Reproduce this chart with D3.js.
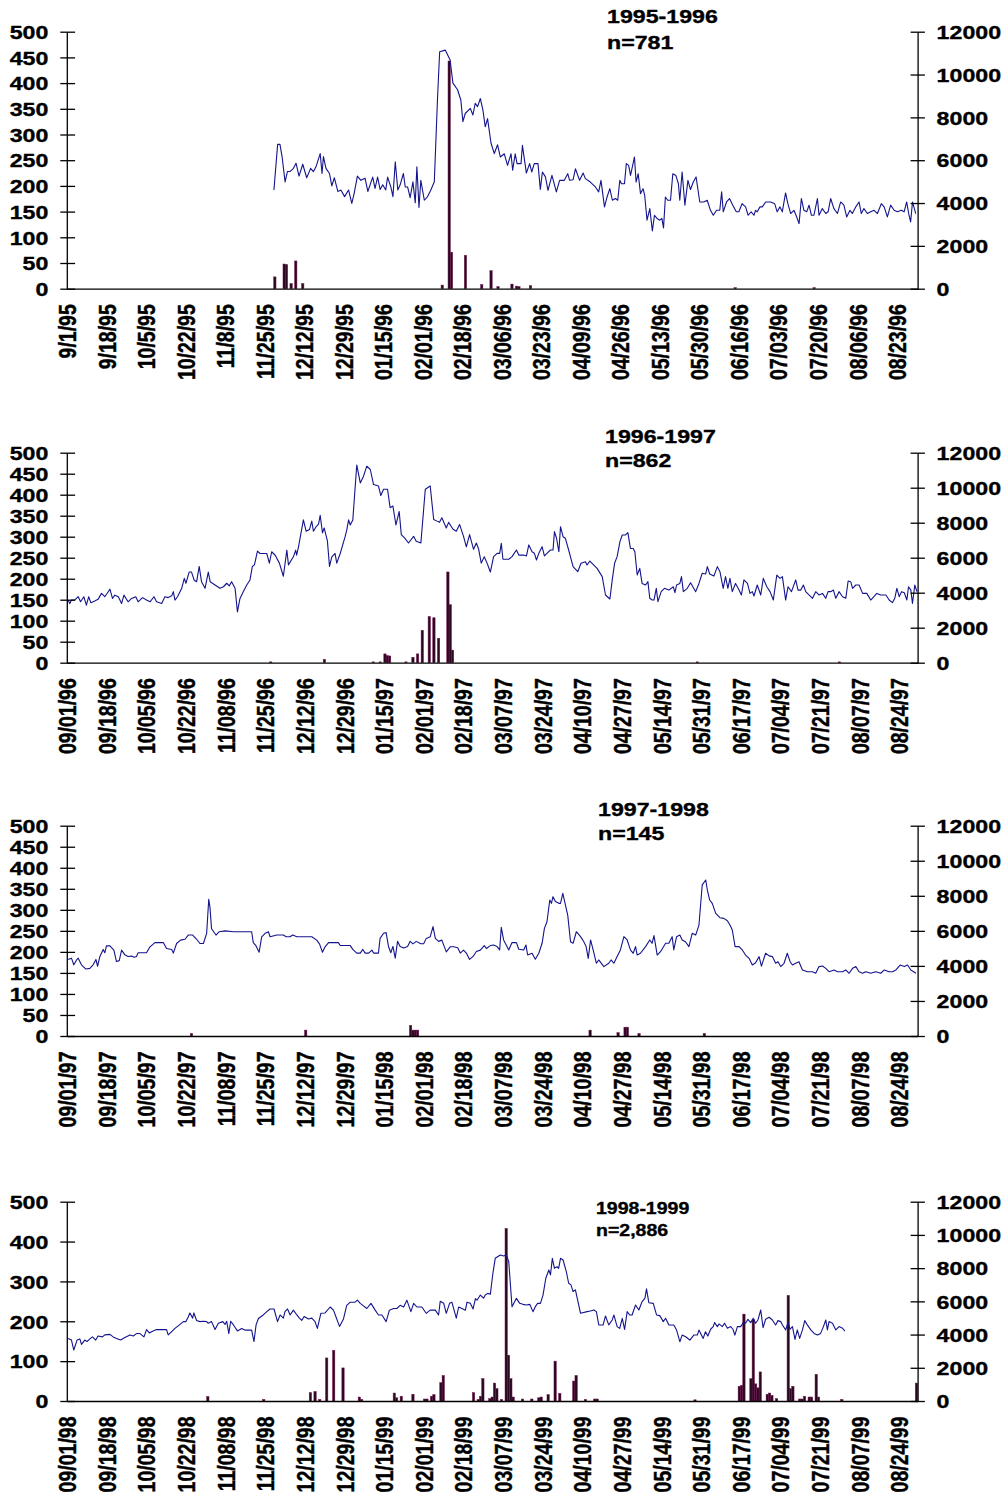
<!DOCTYPE html>
<html>
<head>
<meta charset="utf-8">
<script src="https://cdn.jsdelivr.net/npm/d3@7"></script>
<style>
  body { margin: 0; background: #fff; }
  svg { display: block; }
</style>
</head>
<body>
<svg id="chart" width="1006" height="1496"></svg>
<script>
// ---- Season 1995-1996 (366 days from Sep 1) ----
const s1Title = "1995-1996";
const s1N = "n=781";
const s1Days = 366;
const s1Ticks = ["9/1/95","9/18/95","10/5/95","10/22/95","11/8/95","11/25/95","12/12/95","12/29/95","01/15/96","02/01/96","02/18/96","03/06/96","03/23/96","04/09/96","04/26/96","05/13/96","05/30/96","06/16/96","07/03/96","07/20/96","08/06/96","08/23/96"];
// [day since Sep 1, value on right axis]
const s1Line = [[88.6,4610],[90.2,6740],[91.2,6740],[92.1,6170],[93.4,4990],[94.4,5470],[95.5,5470],[97.0,5620],[98.1,5860],[99.4,5260],[101.0,5810],[102.7,5180],[104.4,5620],[105.6,5470],[106.7,5690],[108.5,6310],[109.3,5380],[109.9,6170],[111.0,5620],[112.5,5380],[113.5,4800],[114.6,5180],[116.1,4540],[117.4,4610],[119.0,4300],[120.7,4610],[122.1,3980],[123.1,4440],[124.5,5260],[126.0,5060],[127.8,5160],[129.0,4540],[131.1,5210],[132.1,4680],[133.2,5210],[134.3,4630],[135.4,4850],[136.7,4610],[137.5,5210],[138.9,4750],[139.8,4300],[140.8,5930],[141.9,4610],[142.9,4850],[144.3,5380],[145.1,4750],[146.1,4750],[147.2,4250],[148.4,4990],[149.4,4010],[150.1,5690],[151.0,3790],[151.8,5060],[153.3,4130],[154.7,4300],[156.1,4610],[157.6,4990],[159.0,8950],[159.9,11060],[162.3,11140],[164.4,10680],[165.6,9600],[167.6,9290],[169.0,8810],[169.9,7800],[170.9,8180],[173.1,8420],[174.2,8110],[175.2,8660],[176.2,8500],[177.4,8880],[178.5,8350],[179.5,7560],[180.5,7940],[182.0,6790],[183.4,6310],[184.8,6720],[186.0,6150],[187.7,6300],[189.1,5760],[190.6,6300],[191.3,5530],[192.4,6300],[193.2,5840],[194.9,5840],[195.5,6690],[197.2,5400],[198.6,5840],[199.5,5450],[200.6,5840],[202.2,5840],[203.2,4640],[204.1,5450],[205.4,5220],[206.5,4590],[208.2,5290],[210.1,4520],[211.5,5060],[213.5,5060],[215.0,5370],[215.8,5060],[217.3,5090],[218.3,5600],[220.1,5060],[221.6,5400],[222.6,5140],[224.7,4980],[226.9,4750],[228.3,4520],[229.3,5060],[230.8,3820],[231.9,4280],[233.1,4670],[234.2,4130],[235.5,4210],[236.5,4130],[237.4,5060],[238.1,4900],[239.4,4900],[240.2,5840],[241.2,5760],[242.0,5290],[243.1,5840],[243.7,6150],[244.4,4980],[245.3,5370],[246.3,4440],[247.4,4670],[248.1,4360],[249.1,3200],[250.3,3740],[251.4,2700],[252.3,3430],[253.4,3280],[254.6,3200],[255.5,3280],[256.2,2840],[257.0,4280],[258.0,4130],[259.2,4130],[260.2,5370],[261.5,5290],[262.6,4900],[263.2,4130],[264.2,5450],[265.4,3900],[266.7,5060],[267.8,4630],[269.0,4980],[270.2,5220],[271.8,4050],[273.5,4050],[275.0,4130],[276.4,3660],[277.6,3430],[279.0,3660],[280.4,3660],[281.2,4520],[281.9,3590],[283.3,4050],[284.6,4210],[286.0,3900],[287.5,3590],[288.6,3590],[290.0,3970],[291.5,3820],[292.6,3430],[293.9,3590],[295.1,3430],[295.8,3660],[296.5,3590],[297.7,3820],[298.7,3820],[300.1,4050],[302.3,4050],[304.0,3970],[305.1,3590],[306.3,3820],[307.3,3590],[308.7,4470],[309.7,3970],[310.9,3510],[312.3,3660],[313.5,3350],[314.5,3040],[315.5,4210],[316.6,3660],[317.8,3590],[318.8,3900],[319.8,3430],[320.9,3430],[322.4,4210],[323.1,3430],[324.5,3740],[326.0,3510],[327.0,3590],[328.1,4210],[329.5,3740],[331.0,3510],[332.4,4050],[333.8,3900],[335.0,3350],[336.4,3660],[337.4,3510],[338.9,3820],[340.3,4050],[341.3,3510],[342.4,3740],[343.9,3510],[345.3,3590],[346.8,3660],[348.2,3510],[349.9,3970],[351.1,3820],[352.5,3350],[353.9,3900],[355.4,3660],[356.8,3590],[358.5,3660],[359.7,3590],[360.8,4050],[361.8,3430],[362.5,3120],[363.3,4050],[364.7,3510]];
// [day since Sep 1, count on left axis]
const s1Bars = [[89,23],[93,48],[94,47],[96,10],[98,54],[101,10],[161,7],[164,443],[165,71],[171,65],[178,8],[182,35],[185,4],[191,9],[193,5],[194,4],[199,6],[287,2],[321,2]];

// ---- Season 1996-1997 ----
const s2Title = "1996-1997";
const s2N = "n=862";
const s2Days = 365;
const s2Ticks = ["09/01/96","09/18/96","10/05/96","10/22/96","11/08/96","11/25/96","12/12/96","12/29/96","01/15/97","02/01/97","02/18/97","03/07/97","03/24/97","04/10/97","04/27/97","05/14/97","05/31/97","06/17/97","07/04/97","07/21/97","08/07/97","08/24/97"];
const s2Line = [[0.0,3580],[0.8,3380],[1.5,3580],[2.9,3580],[4.4,3770],[5.4,3480],[6.8,3770],[7.9,3290],[8.9,3770],[9.8,3430],[11.5,3530],[12.9,3620],[14.4,3960],[15.8,3770],[18.0,4200],[19.1,3670],[20.1,3860],[21.6,3770],[23.0,3380],[24.0,3860],[25.8,3480],[27.3,3670],[29.1,3770],[30.1,3480],[32.0,3720],[33.7,3580],[35.2,3480],[36.9,3770],[38.0,3480],[40.2,3380],[41.6,3770],[43.0,3720],[44.5,3820],[45.2,4060],[45.9,3580],[47.0,3770],[48.8,4250],[49.9,4820],[50.6,4540],[52.0,5180],[53.0,5180],[54.1,4730],[55.2,4630],[56.3,5500],[57.3,4630],[58.8,4250],[60.2,5180],[61.0,4630],[63.1,4440],[65.2,4250],[66.7,4340],[68.1,4540],[69.2,4390],[70.2,4630],[71.7,4250],[72.7,2900],[73.8,3670],[75.2,4060],[76.7,4440],[78.1,4730],[79.1,5500],[80.0,5590],[81.3,6380],[82.4,6240],[85.3,6240],[86.4,5690],[87.4,6340],[88.9,6140],[90.7,5690],[92.4,4940],[93.9,6430],[94.6,5590],[96.7,6050],[97.7,6430],[98.1,6140],[98.9,6620],[101.0,8160],[102.2,7510],[103.6,7610],[104.6,8090],[105.3,7510],[106.5,7780],[107.5,7920],[108.2,8420],[109.2,7420],[109.9,7700],[111.3,6960],[112.2,5500],[113.2,6050],[114.6,6240],[115.3,5690],[116.8,6240],[118.9,7200],[119.6,7580],[120.4,8160],[121.1,7870],[122.2,8160],[123.9,11300],[125.4,10270],[126.8,10660],[128.2,11230],[129.7,11040],[131.1,10180],[133.2,10100],[134.2,9550],[135.4,9910],[137.1,9910],[138.2,8860],[139.4,8950],[140.7,7870],[142.1,8640],[143.0,7320],[144.4,7130],[146.1,6840],[148.3,7220],[149.4,6940],[151.4,6840],[153.3,9910],[155.4,10100],[156.9,8180],[158.3,8090],[159.4,8020],[160.4,8280],[162.3,7700],[163.3,8020],[165.2,7630],[166.6,7510],[168.0,7900],[169.7,7220],[170.9,6620],[172.3,7320],[174.0,6480],[175.2,6840],[176.2,6480],[177.3,5690],[178.6,6050],[179.8,5690],[181.2,5180],[182.6,6060],[184.1,6250],[185.2,6250],[185.9,6820],[186.6,5910],[189.1,5910],[190.5,6060],[192.4,6440],[193.4,6150],[195.5,6150],[196.7,6100],[197.7,6730],[199.1,6340],[200.1,6250],[201.0,5870],[202.0,6250],[203.4,6630],[204.4,6100],[205.8,6290],[207.0,6440],[208.1,6440],[208.7,7490],[209.6,7110],[210.6,6340],[211.3,7770],[212.4,7200],[213.4,7110],[214.8,6440],[216.7,5490],[218.7,5200],[220.1,5680],[222.0,5770],[222.7,5580],[223.9,5810],[225.6,5580],[227.0,5390],[229.2,4920],[230.6,3870],[232.5,3640],[233.5,4730],[234.5,5680],[235.6,6060],[236.8,6920],[237.8,7300],[239.2,7300],[240.2,7430],[241.3,6530],[242.5,6530],[243.2,6340],[244.2,5010],[245.3,5390],[246.3,4530],[247.8,4440],[248.8,4630],[249.6,3680],[250.6,3580],[251.4,3580],[252.4,4250],[253.1,3490],[254.5,4060],[255.9,4250],[257.8,4150],[259.7,4340],[260.4,4000],[261.1,4440],[262.5,4530],[263.2,4920],[264.0,4060],[265.7,4250],[267.1,4570],[269.3,4060],[270.7,4530],[272.1,5110],[273.6,5070],[274.3,5490],[275.3,5070],[277.1,4950],[278.6,5490],[279.7,5200],[281.1,4250],[282.1,4920],[283.1,4250],[284.0,4820],[285.0,4060],[286.4,4530],[287.9,4150],[288.9,3870],[290.0,4730],[291.5,4530],[292.6,3960],[293.6,4060],[294.3,3810],[295.7,4440],[297.2,3870],[298.3,4820],[299.8,4340],[301.2,4060],[302.6,3580],[304.1,5010],[305.5,4820],[306.5,4920],[307.9,3580],[308.9,4340],[310.4,4060],[312.2,4730],[313.2,4150],[314.4,4150],[315.5,4440],[316.5,4060],[317.9,3870],[319.4,3680],[320.8,4060],[322.2,3870],[323.7,3960],[325.1,3680],[326.1,4060],[327.2,4060],[328.4,4150],[329.4,3680],[330.8,4060],[332.3,3770],[333.7,3680],[334.7,4670],[335.8,4630],[336.6,4250],[338.0,4440],[339.4,4440],[340.9,3960],[342.7,3960],[344.4,3580],[347.0,3960],[348.7,3870],[350.9,3870],[352.3,3580],[353.7,3430],[354.7,3680],[355.6,4250],[356.6,3770],[357.6,4060],[358.8,4000],[359.9,3580],[360.6,4340],[361.6,4150],[362.3,3390],[363.3,4440],[364.2,4060]];
const s2Bars = [[87,2],[110,8],[131,2],[134,2],[136,21],[137,17],[138,16],[145,2],[148,13],[150,21],[152,77],[155,110],[157,107],[159,58],[163,216],[164,138],[165,30],[270,2],[331,2]];

// ---- Season 1997-1998 ----
const s3Title = "1997-1998";
const s3N = "n=145";
const s3Days = 365;
const s3Ticks = ["09/01/97","09/18/97","10/05/97","10/22/97","11/08/97","11/25/97","12/12/97","12/29/97","01/15/98","02/01/98","02/18/98","03/07/98","03/24/98","04/10/98","04/27/98","05/14/98","05/31/98","06/17/98","07/04/98","07/21/98","08/07/98","08/24/98"];
const s3Line = [[0.1,4370],[1.5,4440],[2.5,4060],[3.7,4340],[4.4,4440],[5.8,4060],[7.7,3820],[9.4,3860],[10.8,4060],[12.0,4370],[12.7,3980],[13.7,4540],[15.1,4940],[15.8,4750],[16.5,5140],[18.0,5140],[19.7,4900],[20.8,4250],[22.0,4300],[23.0,4900],[24.4,4630],[25.8,4540],[27.3,4560],[28.4,4490],[29.4,4540],[30.1,4750],[33.7,4750],[35.2,5090],[37.3,5330],[40.9,5330],[42.3,4990],[44.5,4940],[45.2,4730],[46.6,5280],[48.3,5470],[50.2,5520],[51.6,5760],[53.5,5760],[55.2,5520],[56.6,5280],[58.1,5280],[59.5,5860],[60.4,7800],[60.9,7370],[61.6,6120],[63.5,5760],[64.9,5950],[67.4,6000],[71.0,5950],[75.2,5950],[78.8,5950],[79.5,5330],[80.7,5140],[82.0,4780],[83.1,5660],[84.6,5860],[86.0,5950],[86.7,5660],[89.6,5760],[92.4,5760],[93.6,5660],[95.3,5660],[96.4,5760],[98.2,5660],[104.6,5660],[106.7,5470],[107.9,5260],[109.2,4780],[110.3,5090],[111.8,5330],[116.0,5330],[116.8,5160],[121.1,5160],[122.2,4940],[123.9,4730],[125.4,4730],[126.5,4940],[127.5,4730],[129.0,4730],[130.4,4900],[131.1,4730],[133.2,4730],[133.9,5570],[135.4,5860],[136.5,5900],[137.5,5110],[138.5,4750],[139.4,5110],[140.4,4440],[141.4,5400],[142.5,5110],[144.0,5020],[145.7,5110],[146.8,5400],[148.0,5260],[149.4,5400],[151.4,5260],[152.6,5260],[153.7,5570],[155.4,5660],[156.6,6240],[157.6,5570],[159.0,5400],[160.4,5470],[162.3,4800],[164.0,5090],[165.4,5090],[167.2,5040],[168.3,4730],[169.7,4900],[170.9,4730],[172.3,4370],[173.8,4540],[175.2,4820],[176.9,4900],[178.6,5160],[179.5,4990],[181.2,5160],[182.6,5190],[184.1,5100],[185.2,4910],[185.9,6200],[186.9,5480],[189.1,4910],[190.5,5330],[192.4,5330],[193.4,4950],[195.5,4910],[196.5,5190],[197.2,4620],[199.1,4720],[200.5,4380],[202.0,4720],[203.4,5290],[204.4,6140],[205.5,6520],[206.7,7760],[207.4,7570],[208.1,7950],[209.1,7670],[210.6,7570],[211.3,7570],[212.3,8140],[213.4,7480],[214.4,6900],[215.6,5380],[216.7,5290],[218.1,5950],[219.9,5670],[221.3,5380],[222.3,5100],[223.2,4430],[224.2,5480],[225.3,4910],[226.7,4150],[227.7,4340],[229.9,3960],[232.0,4150],[233.0,4340],[234.2,4150],[235.6,4530],[237.0,4910],[238.5,5670],[239.9,5480],[241.3,4910],[242.5,4720],[243.5,5100],[244.2,4620],[245.6,4720],[247.8,5100],[249.6,5480],[250.6,5290],[251.4,5730],[252.8,4620],[254.2,4810],[256.4,5290],[257.8,5290],[259.2,5670],[259.9,4910],[261.1,5670],[262.5,5760],[263.5,5480],[264.9,5380],[266.4,5100],[267.8,5860],[269.3,5760],[270.7,6330],[272.1,8620],[273.6,8900],[274.3,8330],[275.3,7760],[276.4,7570],[277.9,7000],[279.7,6750],[281.4,6710],[282.9,6580],[284.0,6330],[285.0,6050],[286.2,5100],[287.9,5100],[289.3,4910],[290.7,4620],[292.2,4430],[293.6,4050],[295.0,4180],[296.5,4530],[297.5,3990],[299.3,4720],[300.8,4570],[302.2,4530],[303.6,4150],[304.6,4240],[305.8,3960],[307.2,4150],[308.6,4720],[309.8,4240],[310.8,4050],[312.2,4150],[313.6,4240],[315.1,3770],[317.2,3670],[319.4,3670],[320.8,3580],[322.2,3960],[323.7,3990],[325.1,3860],[326.5,3670],[328.7,3770],[330.1,3670],[332.3,3670],[333.7,3770],[335.1,3580],[336.6,3860],[338.0,3960],[339.4,3670],[340.9,3580],[342.3,3670],[344.4,3580],[346.6,3670],[348.7,3580],[350.2,3770],[352.3,3670],[353.7,3670],[355.2,3770],[357.0,4050],[358.8,3960],[360.2,4050],[361.6,3770],[362.8,3670],[363.8,3580]];
const s3Bars = [[53,6],[102,14],[147,25],[148,14],[149,14],[150,14],[224,14],[236,8],[239,21],[240,21],[245,6],[273,6]];

// ---- Season 1998-1999 ----
const s4Title = "1998-1999";
const s4N = "n=2,886";
const s4Days = 365;
const s4Ticks = ["09/01/98","09/18/98","10/05/98","10/22/98","11/08/98","11/25/98","12/12/98","12/29/98","01/15/99","02/01/99","02/18/99","03/07/99","03/24/99","04/10/99","04/27/99","05/14/99","05/31/99","06/17/99","07/04/99","07/21/99","08/07/99","08/24/99"];
const s4Line = [[0.1,3770],[1.5,3670],[2.5,3070],[3.9,3670],[5.1,3740],[5.8,3410],[7.2,3670],[8.2,3580],[9.4,3740],[10.5,3860],[11.9,3670],[12.9,3910],[14.8,3860],[15.8,3980],[18.0,4010],[19.4,3860],[20.8,3770],[22.6,3670],[24.4,3820],[26.6,3980],[28.0,3910],[29.4,4060],[30.9,4060],[32.6,3860],[33.7,4300],[34.9,4100],[36.3,4200],[38.0,4300],[40.9,4300],[42.3,4300],[43.0,3980],[44.5,4180],[45.9,4370],[47.8,4580],[49.5,4780],[50.6,4780],[51.6,5060],[52.3,5300],[53.5,4990],[54.0,5300],[55.2,4850],[56.6,4780],[58.1,4800],[59.5,4780],[60.2,4680],[61.6,4780],[63.1,4300],[64.5,4680],[66.4,4780],[67.4,4610],[68.1,4800],[69.0,4060],[69.8,4800],[71.0,4580],[72.7,4220],[74.5,4370],[75.9,4270],[77.0,4270],[78.8,4270],[79.8,3580],[80.7,4580],[81.7,4970],[83.8,5180],[85.3,5380],[86.7,5540],[88.4,5540],[89.9,4780],[91.0,5180],[92.4,4990],[93.1,5380],[94.2,5540],[95.3,5180],[96.7,5470],[98.2,5180],[99.3,4990],[100.3,4850],[101.3,5090],[103.2,4940],[104.6,4990],[106.0,4780],[107.0,4370],[108.5,5280],[110.3,5300],[112.5,5660],[113.9,5470],[115.0,5060],[116.5,4490],[118.2,4940],[119.6,5760],[121.1,5950],[123.2,5950],[124.2,6070],[125.4,5880],[126.5,5760],[128.2,5570],[130.0,5880],[131.8,5470],[133.2,5180],[134.7,5180],[136.5,4780],[137.9,5470],[139.7,5570],[141.1,5570],[142.5,5760],[144.0,5660],[145.4,6070],[147.1,5380],[148.3,5880],[149.7,5660],[151.8,5660],[153.7,5280],[155.4,5470],[157.6,5470],[159.0,5180],[159.7,6000],[161.2,5880],[162.3,5280],[163.7,5880],[164.7,5950],[166.6,4990],[167.6,5660],[169.0,5570],[170.5,5470],[171.2,5950],[172.6,5880],[173.8,5540],[174.8,6170],[175.5,6070],[176.9,6380],[178.3,6190],[179.0,6380],[180.1,6480],[181.2,6430],[182.3,7690],[183.3,8590],[185.5,8790],[186.9,8730],[188.1,8790],[189.1,8390],[190.5,5680],[192.4,6180],[193.8,5880],[195.2,5820],[196.7,5780],[198.1,5820],[199.5,5380],[200.5,5680],[201.5,5880],[202.7,5880],[203.8,6380],[205.0,7390],[206.3,7890],[207.0,7590],[207.8,8590],[208.7,7990],[209.8,8090],[210.5,7990],[211.3,8590],[212.4,8490],[213.8,7790],[214.8,7090],[215.8,6990],[216.7,6590],[217.7,6690],[219.9,5280],[222.7,5380],[224.1,5420],[225.6,5480],[226.7,5380],[227.7,4580],[229.6,4580],[230.6,5120],[232.0,4580],[233.5,4880],[234.2,5180],[235.6,4480],[236.7,4370],[237.8,4980],[238.8,4310],[239.9,5380],[241.0,5180],[242.0,5180],[243.5,5780],[244.9,5480],[246.3,5980],[247.5,6180],[248.2,6750],[249.2,5920],[251.1,5880],[252.5,5180],[253.9,5140],[255.4,4780],[256.4,4980],[257.8,4580],[259.9,4580],[261.1,4270],[262.5,3570],[263.5,3970],[265.0,3870],[266.8,3670],[268.5,3970],[270.0,3970],[270.7,4270],[272.5,3770],[273.5,4170],[274.5,3910],[275.7,4320],[276.8,4480],[277.4,4720],[278.6,4480],[279.3,4640],[280.7,4480],[281.7,4680],[282.9,4380],[284.3,4480],[285.3,4320],[286.1,3970],[287.2,4480],[288.6,4480],[289.7,4720],[290.7,4680],[291.7,4920],[292.9,4720],[294.0,4980],[295.0,4680],[296.0,4880],[297.2,5480],[298.2,4420],[299.3,4920],[300.8,5040],[302.2,4880],[303.6,4580],[304.6,4840],[305.8,4780],[306.5,4580],[307.9,4280],[308.9,4720],[309.8,4320],[310.8,4480],[311.9,3710],[312.9,4280],[313.9,3770],[315.1,4280],[316.1,4840],[317.2,4580],[318.7,4280],[320.1,4070],[321.5,3970],[322.9,4070],[324.1,4480],[325.1,4880],[325.8,4280],[326.5,4780],[328.0,4680],[329.4,4280],[330.8,4480],[332.3,4380],[333.3,4210]];
const s4Bars = [[60,11],[84,4],[104,21],[106,24],[108,4],[111,108],[114,127],[118,83],[125,10],[126,4],[140,20],[141,8],[143,12],[148,17],[153,5],[154,5],[156,12],[157,16],[160,46],[161,64],[174,21],[176,4],[177,12],[178,56],[181,6],[182,10],[183,45],[184,31],[186,4],[188,433],[189,115],[190,56],[191,10],[195,5],[199,5],[202,8],[203,10],[206,16],[209,100],[211,19],[217,50],[218,64],[222,4],[226,5],[227,5],[269,3],[288,37],[289,39],[290,218],[293,56],[294,204],[295,43],[296,33],[297,73],[300,17],[301,20],[302,14],[304,6],[309,265],[310,31],[311,37],[314,5],[315,5],[316,12],[318,10],[319,10],[321,67],[322,10],[332,4],[364,45]];

// Axis tick values
const leftTicksFine = [0, 50, 100, 150, 200, 250, 300, 350, 400, 450, 500];
const leftTicksCoarse = [0, 100, 200, 300, 400, 500];
const rightTicks = [0, 2000, 4000, 6000, 8000, 10000, 12000];

const seasons = [
  { title: s1Title, n: s1N, days: s1Days, ticks: s1Ticks, line: s1Line, bars: s1Bars, left: leftTicksFine },
  { title: s2Title, n: s2N, days: s2Days, ticks: s2Ticks, line: s2Line, bars: s2Bars, left: leftTicksFine },
  { title: s3Title, n: s3N, days: s3Days, ticks: s3Ticks, line: s3Line, bars: s3Bars, left: leftTicksFine },
  { title: s4Title, n: s4N, days: s4Days, ticks: s4Ticks, line: s4Line, bars: s4Bars, left: leftTicksCoarse }
];

// Panel placement
const layout = [
  { top: 31.7,   bottom: 288.7, titleX: 607, titleY: 23,   nY: 49,   titleSize: 19 },
  { top: 452.7,  bottom: 662.7, titleX: 605, titleY: 443,  nY: 467,  titleSize: 19 },
  { top: 825.7,  bottom: 1036,  titleX: 598, titleY: 816,  nY: 840,  titleSize: 19 },
  { top: 1201.7, bottom: 1401,  titleX: 596, titleY: 1214, nY: 1236, titleSize: 16 }
];

const X0 = 66.8, X1 = 917.6;
const FONT = "'Liberation Sans', Arial, Helvetica, sans-serif";
const SX = 1.22;           // wide lettering
const AXIS_W = 1.3;

const svg = d3.select("#chart");

function styleText(sel, size) {
  sel.attr("font-family", FONT).attr("font-weight", "bold")
     .attr("font-size", size).attr("fill", "#000")
     .attr("stroke", "#000").attr("stroke-width", 0.35);
}

function drawPanel(s, L) {
  const g = svg.append("g");

  const x = d3.scaleBand().domain(d3.range(s.days)).range([X0, X1]).padding(0);
  const xt = d3.scaleLinear().domain([0, s.days]).range([X0, X1]);
  const yL = d3.scaleLinear().domain([0, 500]).range([L.bottom, L.top]);
  const yR = d3.scaleLinear().domain([0, 12000]).range([L.bottom, L.top]);
  const bw = x.bandwidth();

  // Daily counts (left axis)
  g.append("g").selectAll("rect")
    .data(s.bars)
    .join("rect")
    .attr("x", d => x(d[0]))
    .attr("width", bw)
    .attr("y", d => yL(d[1]))
    .attr("height", d => yL(0) - yL(d[1]))
    .attr("fill", "#2a0820")
    .attr("stroke", "#70164f")
    .attr("stroke-width", 0.5);

  // Daily series (right axis)
  g.append("path")
    .datum(s.line)
    .attr("d", d3.line().x(d => xt(d[0] + 0.5)).y(d => yR(d[1])))
    .attr("fill", "none")
    .attr("stroke", "#14148c")
    .attr("stroke-width", 1.1)
    .attr("stroke-linejoin", "round");

  // Left axis
  const gl = g.append("g").attr("transform", `translate(${X0},0)`)
    .call(d3.axisLeft(yL).tickValues(s.left).tickFormat(d3.format("d"))
      .tickSizeInner(6.5).tickSizeOuter(0).tickPadding(18));
  gl.select(".domain").attr("stroke-width", AXIS_W);
  gl.selectAll(".tick line").attr("x1", 8.3).attr("stroke-width", AXIS_W);
  gl.selectAll(".tick text").each(function () {
    const t = d3.select(this);
    t.attr("x", 0).attr("dy", null).attr("dominant-baseline", "central")
     .attr("text-anchor", "end")
     .attr("transform", `translate(-18.4,0) scale(${SX},1)`);
    styleText(t, 19);
  });

  // Right axis
  const gr = g.append("g").attr("transform", `translate(${X1},0)`)
    .call(d3.axisRight(yR).tickValues(rightTicks).tickFormat(d3.format("d"))
      .tickSizeInner(7.3).tickSizeOuter(0).tickPadding(19));
  gr.select(".domain").attr("stroke-width", AXIS_W);
  gr.selectAll(".tick line").attr("x1", -7).attr("stroke-width", AXIS_W);
  gr.selectAll(".tick text").each(function () {
    const t = d3.select(this);
    t.attr("x", 0).attr("dy", null).attr("dominant-baseline", "central")
     .attr("text-anchor", "start")
     .attr("transform", `translate(19,0) scale(${SX},1)`);
    styleText(t, 19);
  });

  // Date axis
  const tickDays = s.ticks.map((_, i) => i * 17);
  const gb = g.append("g").attr("transform", `translate(0,${L.bottom})`)
    .call(d3.axisBottom(x).tickValues(tickDays)
      .tickFormat((d, i) => s.ticks[i]).tickSize(0).tickSizeOuter(0));
  gb.select(".domain").attr("stroke-width", AXIS_W);
  gb.selectAll(".tick text").each(function () {
    const t = d3.select(this);
    t.attr("x", 0).attr("y", 0).attr("dy", null)
     .attr("dominant-baseline", "central").attr("text-anchor", "end")
     .attr("transform", `translate(0,15.5) scale(${SX},1) rotate(-90)`);
    styleText(t, 19.5);
  });
  g.selectAll(".domain, .tick line").attr("stroke", "#000");

  // Season title and count
  const tt = g.append("text").text(s.title)
    .attr("transform", `translate(${L.titleX},${L.titleY}) scale(${SX},1)`);
  styleText(tt, L.titleSize);
  const nt = g.append("text").text(s.n)
    .attr("transform", `translate(${L.titleX},${L.nY}) scale(${SX},1)`);
  styleText(nt, L.titleSize);
}

seasons.forEach((s, i) => drawPanel(s, layout[i]));
</script>
</body>
</html>
